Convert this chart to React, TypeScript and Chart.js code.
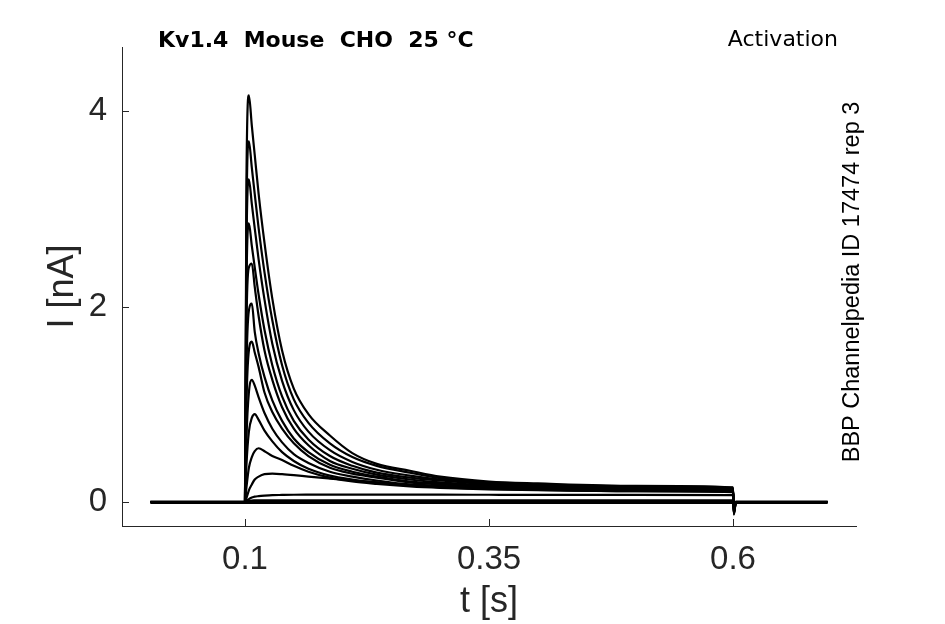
import React, { useEffect, useRef } from 'react';
import { Chart, registerables } from 'chart.js';

Chart.register(...registerables);

// sample times [s] shared by every sweep
const times = [0.003, 0.05, 0.1, 0.1015, 0.104, 0.107, 0.11, 0.114, 0.12, 0.128, 0.138, 0.15, 0.165, 0.187, 0.21, 0.235, 0.269, 0.3, 0.35, 0.4, 0.5, 0.6, 0.6008, 0.603, 0.65, 0.697];

// current [nA], one array per voltage step
const sweep01 = [0, 0, 0, 3.3, 4.16, 3.85, 3.55, 3.15, 2.65, 2.08, 1.55, 1.16, 0.9, 0.68, 0.5, 0.39, 0.32, 0.26, 0.21, 0.19, 0.165, 0.15, -0.13, 0, 0, 0];
const sweep02 = [0, 0, 0, 2.9, 3.69, 3.42, 3.15, 2.8, 2.35, 1.86, 1.4, 1.05, 0.81, 0.6, 0.46, 0.37, 0.3, 0.245, 0.2, 0.18, 0.16, 0.145, -0.12, 0, 0, 0];
const sweep03 = [0, 0, 0, 2.6, 3.3, 3.05, 2.8, 2.48, 2.07, 1.62, 1.24, 0.94, 0.72, 0.53, 0.41, 0.33, 0.27, 0.23, 0.19, 0.17, 0.155, 0.14, -0.12, 0, 0, 0];
const sweep04 = [0, 0, 0, 2.2, 2.85, 2.62, 2.4, 2.12, 1.76, 1.4, 1.08, 0.83, 0.64, 0.47, 0.37, 0.3, 0.25, 0.22, 0.18, 0.165, 0.15, 0.135, -0.11, 0, 0, 0];
const sweep05 = [0, 0, 0, 1.8, 2.4, 2.44, 2.2, 1.9, 1.55, 1.25, 0.97, 0.75, 0.58, 0.42, 0.34, 0.28, 0.23, 0.2, 0.17, 0.16, 0.145, 0.13, -0.1, 0, 0, 0];
const sweep06 = [0, 0, 0, 1.35, 1.96, 2.03, 1.74, 1.52, 1.28, 1.04, 0.83, 0.65, 0.51, 0.38, 0.31, 0.26, 0.21, 0.19, 0.16, 0.15, 0.14, 0.125, -0.1, 0, 0, 0];
const sweep07 = [0, 0, 0, 1.0, 1.55, 1.64, 1.53, 1.38, 1.12, 0.92, 0.75, 0.6, 0.47, 0.35, 0.29, 0.25, 0.2, 0.18, 0.155, 0.145, 0.135, 0.12, -0.09, 0, 0, 0];
const sweep08 = [0, 0, 0, 0.65, 1.12, 1.25, 1.19, 1.07, 0.91, 0.75, 0.61, 0.49, 0.4, 0.31, 0.26, 0.22, 0.18, 0.165, 0.145, 0.135, 0.125, 0.115, -0.08, 0, 0, 0];
const sweep09 = [0, 0, 0, 0.38, 0.72, 0.86, 0.9, 0.84, 0.73, 0.62, 0.51, 0.42, 0.34, 0.27, 0.23, 0.2, 0.17, 0.15, 0.135, 0.125, 0.115, 0.11, -0.07, 0, 0, 0];
const sweep10 = [0, 0, 0, 0.15, 0.35, 0.46, 0.52, 0.55, 0.52, 0.47, 0.43, 0.37, 0.31, 0.25, 0.21, 0.185, 0.16, 0.145, 0.13, 0.12, 0.11, 0.105, -0.06, 0, 0, 0];
const sweep11 = [0, 0, 0, 0.04, 0.12, 0.18, 0.23, 0.26, 0.285, 0.29, 0.285, 0.275, 0.26, 0.24, 0.22, 0.2, 0.17, 0.155, 0.14, 0.13, 0.11, 0.1, -0.05, 0, 0, 0];
const sweep12 = [0, 0, 0, 0.01, 0.03, 0.045, 0.055, 0.06, 0.065, 0.07, 0.072, 0.074, 0.075, 0.076, 0.076, 0.076, 0.075, 0.075, 0.074, 0.073, 0.072, 0.07, -0.03, 0, 0, 0];
const sweep13 = [0.005, 0.005, 0.005, 0.008, 0.012, 0.015, 0.016, 0.017, 0.018, 0.018, 0.018, 0.018, 0.018, 0.018, 0.018, 0.018, 0.018, 0.018, 0.018, 0.018, 0.018, 0.018, -0.02, 0.005, 0.005, 0.005];
const sweep14 = [-0.01, -0.01, -0.01, -0.01, -0.01, -0.01, -0.01, -0.01, -0.01, -0.01, -0.01, -0.01, -0.01, -0.01, -0.01, -0.01, -0.01, -0.01, -0.01, -0.01, -0.01, -0.01, -0.02, -0.01, -0.01, -0.01];
const sweep15 = [0, 0, 0, 0, 0, 0, 0, 0, 0, 0, 0, 0, 0, 0, 0, 0, 0, 0, 0, 0, 0, 0, -0.01, 0, 0, 0];

const sweeps = [sweep01, sweep02, sweep03, sweep04, sweep05, sweep06, sweep07, sweep08, sweep09, sweep10, sweep11, sweep12, sweep13, sweep14, sweep15];

const xTicks = [0.1, 0.35, 0.6];
const xTickLabels = ['0.1', '0.35', '0.6'];
const yTicks = [0, 2, 4];
const yTickLabels = ['0', '2', '4'];

const titleText = 'Kv1.4  Mouse  CHO  25 °C';
const protocolText = 'Activation';
const sourceText = 'BBP Channelpedia ID 17474 rep 3';
const xTitle = 't [s]';
const yTitle = 'I [nA]';

const AXIS_COLOR = '#262626';

const annotations = {
  id: 'annotations',
  afterDraw(chart: Chart) {
    const { ctx, chartArea } = chart;
    const xs = chart.scales.x;
    const ys = chart.scales.y;
    ctx.save();
    // inward tick marks
    ctx.strokeStyle = AXIS_COLOR;
    ctx.lineWidth = 1;
    ctx.beginPath();
    xTicks.forEach((v) => {
      const px = Math.round(xs.getPixelForValue(v)) + 0.5;
      ctx.moveTo(px, chartArea.bottom);
      ctx.lineTo(px, chartArea.bottom - 7);
    });
    yTicks.forEach((v) => {
      const py = Math.round(ys.getPixelForValue(v)) + 0.5;
      ctx.moveTo(chartArea.left, py);
      ctx.lineTo(chartArea.left + 7, py);
    });
    ctx.stroke();

    // header texts
    ctx.fillStyle = '#000';
    ctx.textBaseline = 'alphabetic';
    ctx.font = 'bold 22px "DejaVu Sans"';
    ctx.textAlign = 'left';
    ctx.fillText(titleText, 158, 47);
    ctx.font = '22px "DejaVu Sans"';
    ctx.textAlign = 'right';
    ctx.fillText(protocolText, 838, 46);

    // side note
    ctx.save();
    ctx.translate(859, 282);
    ctx.rotate(-Math.PI / 2);
    ctx.textAlign = 'center';
    ctx.font = '23.5px "Liberation Sans"';
    ctx.fillText(sourceText, 0, 0);
    ctx.restore();

    // axis titles
    ctx.fillStyle = AXIS_COLOR;
    ctx.font = '36px "Liberation Sans"';
    ctx.textAlign = 'center';
    ctx.fillText(xTitle, (chartArea.left + chartArea.right) / 2, 612);
    ctx.save();
    ctx.translate(73, (chartArea.top + chartArea.bottom) / 2);
    ctx.rotate(-Math.PI / 2);
    ctx.fillText(yTitle, 0, 0);
    ctx.restore();
    ctx.restore();
  },
};

const App: React.FC = () => {
  const canvasRef = useRef<HTMLCanvasElement>(null);
  const chartRef = useRef<Chart | null>(null);

  useEffect(() => {
    if (!canvasRef.current) return;
    if (chartRef.current) chartRef.current.destroy();

    chartRef.current = new Chart(canvasRef.current, {
      type: 'line',
      data: {
        datasets: sweeps.map((values, i) => ({
          label: 'sweep ' + (i + 1),
          data: times.map((t, k) => ({ x: t, y: values[k] })),
          borderColor: '#000',
          borderWidth: 2.2,
          pointRadius: 0,
          fill: false,
          cubicInterpolationMode: 'monotone' as const,
        })),
      },
      options: {
        animation: false,
        responsive: true,
        maintainAspectRatio: false,
        layout: { padding: { left: 0, top: 47, right: 89, bottom: 0 } },
        plugins: {
          legend: { display: false },
          tooltip: { enabled: false },
        },
        scales: {
          x: {
            type: 'linear',
            min: -0.026,
            max: 0.726,
            afterBuildTicks: (scale) => {
              scale.ticks = xTicks.map((v) => ({ value: v }));
            },
            afterFit: (scale) => {
              scale.height = 98;
            },
            grid: { display: false, drawTicks: false },
            border: { display: true, color: AXIS_COLOR, width: 1 },
            ticks: {
              padding: 14,
              color: AXIS_COLOR,
              font: { family: 'Liberation Sans', size: 33 },
              maxRotation: 0,
              callback: (value) => xTickLabels[xTicks.indexOf(Number(value))] ?? '',
            },
          },
          y: {
            type: 'linear',
            min: -0.2455,
            max: 4.655,
            afterBuildTicks: (scale) => {
              scale.ticks = yTicks.map((v) => ({ value: v }));
            },
            afterFit: (scale) => {
              scale.width = 122;
            },
            grid: { display: false, drawTicks: false },
            border: { display: true, color: AXIS_COLOR, width: 1 },
            ticks: {
              padding: 15,
              color: AXIS_COLOR,
              font: { family: 'Liberation Sans', size: 33 },
              callback: (value) => yTickLabels[yTicks.indexOf(Number(value))] ?? '',
            },
          },
        },
      },
      plugins: [annotations],
    });

    return () => {
      if (chartRef.current) {
        chartRef.current.destroy();
        chartRef.current = null;
      }
    };
  }, []);

  return (
    <div style={{ position: 'fixed', left: 0, top: 0, width: 945, height: 624, background: '#fff' }}>
      <canvas ref={canvasRef} />
    </div>
  );
};

export default App;
